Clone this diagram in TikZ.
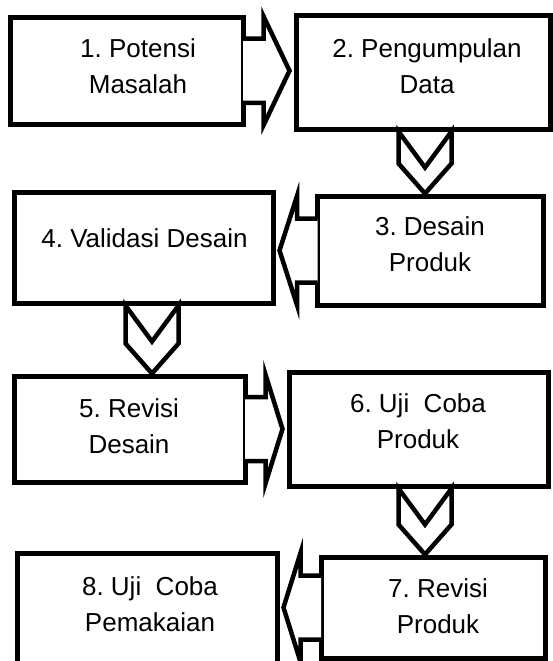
\documentclass[tikz,border=0pt]{standalone}
\usepackage{fontspec}
\setmainfont{Liberation Sans}
\frenchspacing
\usetikzlibrary{calc}
\tikzset{box/.style={draw, line width=5pt, inner sep=0pt},
  lbl/.style={font=\fontsize{26}{36}\selectfont, align=center, inner sep=0pt, anchor=north},
  harrow/.style={line width=4.5pt, preaction={fill=white}, to path={
      ($(\tikztostart)+(#1*-2.5,-32)$) -- ++(#1*20.5,0) -- ++(0,-22.5)
      -- ($(\tikztostart -| \tikztotarget)+(#1*-4,0)$)
      -- ($(\tikztostart)+(#1*18,54.5)$) -- ++(0,-22.5)
      -- ($(\tikztostart)+(#1*-2.5,32)$)}},
  chevron/.style={line width=4.5pt, to path={
      ($(\tikztostart)+(-26.5,0)$) -- ($(\tikztostart |- \tikztotarget)+(-26.5,-30)$)
      -- (\tikztostart |- \tikztotarget) -- ($(\tikztostart |- \tikztotarget)+(26.5,-30)$)
      -- ($(\tikztostart)+(26.5,0)$) -- ($(\tikztostart)+(0,36)$) -- cycle}}}

\begin{document}
\begin{tikzpicture}[x=1pt, y=-1pt]
  \fill[white] (0,0) rectangle (553,661);
  \useasboundingbox (0,0) rectangle (553,661);
  \clip (0,0) rectangle (553,661);
  % boxes
  \foreach \n/\x/\y/\w/\h in {1/126.5/70.75/233/106.5, 2/423/72.5/254/113,
      3/430.25/250.5/225.5/109, 4/143.5/247.5/259/111, 5/129.5/429/231/106,
      6/418.5/429/259/114, 7/433/607.5/224/101, 8/147.25/613/259.5/120} {
    \node[box, minimum width=\w, minimum height=\h] (b\n) at (\x,\y) {};
  }
  \node[lbl] (t1) at (138,38) {1. Potensi\\Masalah};
  \node[lbl] (t2) at (427,38) {2. Pengumpulan\\Data};
  \node[lbl] (t3) at (430,216) {3. Desain\\Produk};
  \node[lbl] (t4) at (144.5,228) {4. Validasi Desain};
  \node[lbl] (t5) at (129,398) {5. Revisi\\Desain};
  \node[lbl] (t6) at (418,393) {6. Uji\ \ Coba\\Produk};
  \node[lbl] (t7) at (438,578) {7. Revisi\\Produk};
  \node[lbl] (t8) at (150,576) {8. Uji\ \ Coba\\Pemakaian};
  % arrows
  \draw[harrow=1] (b1.east) to (b2.west);
  \draw[chevron] ([xshift=2pt]b2.south) to (b3.north);
  \draw[harrow=-1] (b3.west) to (b4.east);
  \draw[chevron] ([xshift=8.5pt]b4.south) to (b5.north);
  \draw[harrow=1] (b5.east) to (b6.west);
  \draw[chevron] ([xshift=6.5pt]b6.south) to (b7.north);
  \draw[harrow=-1] (b7.west) to (b8.east);
\end{tikzpicture}
\end{document}
